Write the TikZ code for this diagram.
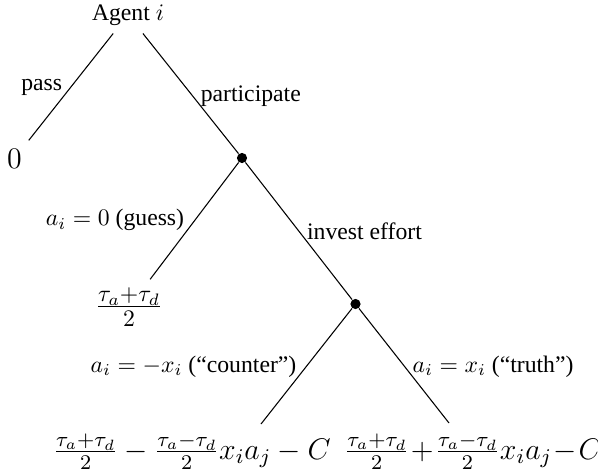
\RequirePackage{fix-cm}
\documentclass[tikz,border=0pt]{standalone}
\usepackage[no-math]{fontspec}
\setmainfont{Liberation Serif}
\begin{document}
\begin{tikzpicture}[x=0.422pt,y=-0.422pt,
  txt/.style={anchor=base,inner sep=3.33pt},
  bigtxt/.style={anchor=base,inner sep=3.33pt,font=\fontsize{12.6}{15}\selectfont},
  lbl/.style={anchor=base,inner sep=0pt},
  dotnode/.style={circle,fill=black,inner sep=0pt,minimum size=4.3pt},
  edge/.style={line width=0.45pt}]
\useasboundingbox (0,0) rectangle (598,472);
% nodes
\node[txt] (root) at (128,20) {Agent $i$};
\node[bigtxt] (zero) at (14.5,168) {$0$};
\node[dotnode] (d1) at (242,158) {};
\node[bigtxt,font=\fontsize{14.4}{17}\selectfont] (guess) at (129,315) {$\frac{\tau_a+\tau_d}{2}$};
\node[dotnode] (d2) at (355.5,304) {};
\node[bigtxt] (cnt) at (192,459) {$\frac{\tau_a+\tau_d}{2} - \frac{\tau_a-\tau_d}{2}x_ia_j - C$};
\node[bigtxt] (tru) at (473,459) {$\frac{\tau_a+\tau_d}{2}\!+\!\frac{\tau_a-\tau_d}{2}x_ia_j\!-\!C$};
\coordinate (cntE) at (261,424);
\coordinate (truE) at (449,423);
% connectors
\draw[edge] (root) -- (zero);
\draw[edge] (root) -- (d1);
\draw[edge] (d1) -- (guess);
\draw[edge] (d1) -- (d2);
\draw[edge] (d2) -- (cntE);
\draw[edge] (d2) -- (truE);
% labels
\node[lbl] (lpass) at (41.7,90.5) {pass};
\node[lbl] (lpart) at (250.8,101) {participate};
\node[lbl] (lguess) at (115,225.5) {$a_i = 0$ (guess)};
\node[lbl] (linvest) at (364.5,239) {invest effort};
\node[lbl] (lcnt) at (193.5,372) {$a_i = -x_i$ (``counter'')};
\node[lbl] (ltru) at (493,372) {$a_i = x_i$ (``truth'')};
\end{tikzpicture}
\end{document}
